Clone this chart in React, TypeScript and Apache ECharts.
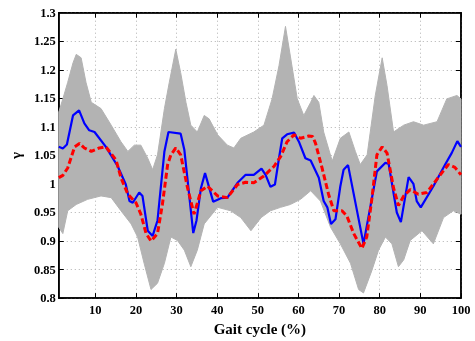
import React, { useEffect, useRef } from "react";
import * as echarts from "echarts";

// Blue solid curve (cycle %, gamma)
const blueX = [1, 2, 3, 4.5, 6, 7.3, 8.5, 9.8, 12.6, 15.5, 17.5, 18.4, 19.2, 20.8, 21.6, 22.9, 24.1, 25.3, 27, 28, 31, 31.9, 34.1, 34.9, 36, 37, 39, 40.9, 42.5, 45, 47, 49, 50.9, 51.9, 53.1, 54.2, 55.2, 56, 57.2, 58.9, 60.1, 61.7, 63, 65, 66.2, 67.1, 68, 69.1, 70.3, 71.1, 72.2, 76, 78.1, 79.3, 81.4, 82.2, 84.2, 85.2, 87.1, 88.3, 89.1, 90.1, 93.2, 96.1, 97.7, 99.1, 100];
const blueY = [1.065, 1.062, 1.069, 1.12, 1.129, 1.106, 1.094, 1.091, 1.065, 1.031, 0.999, 0.97, 0.967, 0.985, 0.979, 0.918, 0.909, 0.936, 1.057, 1.091, 1.088, 1.06, 0.914, 0.936, 0.993, 1.019, 0.969, 0.975, 0.976, 1.002, 1.016, 1.016, 1.027, 1.016, 0.995, 0.999, 1.045, 1.08, 1.087, 1.09, 1.074, 1.045, 1.041, 1.011, 0.97, 0.959, 0.93, 0.938, 0.996, 1.025, 1.033, 0.895, 0.976, 1.022, 1.037, 1.035, 0.95, 0.933, 1.012, 1.0, 0.97, 0.959, 0.996, 1.034, 1.054, 1.075, 1.065];

// Red dashed curve
const redX = [1, 2, 3.2, 4.9, 6.1, 7.3, 9, 11, 12.6, 15.1, 16.3, 18, 20, 21.2, 22.5, 23.7, 25.3, 26.5, 27.8, 28.6, 29.8, 31, 32.7, 34.3, 36, 37.6, 40.1, 42.5, 45, 47, 49, 51.5, 54, 55.6, 57.2, 58.9, 60.5, 62.5, 63.5, 64.2, 65.8, 67.4, 68.7, 70.7, 71.9, 73.6, 75.6, 76.8, 78.1, 79.3, 80.6, 81.8, 83.4, 84.6, 85.9, 87.5, 89.5, 91.6, 94.9, 96.9, 98.5, 100];
const redY = [1.011, 1.015, 1.028, 1.065, 1.071, 1.063, 1.057, 1.063, 1.065, 1.042, 1.011, 0.982, 0.967, 0.947, 0.913, 0.9, 0.913, 0.964, 1.034, 1.051, 1.063, 1.051, 0.993, 0.947, 0.988, 0.996, 0.979, 0.976, 0.999, 1.003, 1.002, 1.014, 1.031, 1.048, 1.074, 1.086, 1.08, 1.084, 1.083, 1.071, 1.028, 0.982, 0.953, 0.953, 0.944, 0.913, 0.887, 0.907, 0.976, 1.051, 1.065, 1.054, 0.993, 0.962, 0.979, 0.99, 0.982, 0.985, 1.016, 1.034, 1.029, 1.016];

// Grey band of all curves: upper and lower envelopes
const upperX = [1, 2, 3.2, 4.5, 5.3, 6.5, 7.7, 9, 11.4, 13.9, 16.3, 18, 19.6, 21.2, 22.9, 24.1, 25.3, 27, 28.2, 29.8, 31, 32.3, 33.5, 35.1, 36.8, 38, 40.1, 42.5, 44.1, 45.8, 49, 51.5, 53.5, 55.2, 56.8, 58, 59.7, 61.3, 63, 63.8, 65, 66.2, 68.3, 70.3, 72.4, 74, 75.2, 76.9, 78.9, 80.6, 81.8, 83.4, 85.9, 88.3, 90.8, 94.1, 96.5, 99, 100];
const upperY = [1.126, 1.149, 1.178, 1.212, 1.227, 1.221, 1.178, 1.143, 1.132, 1.103, 1.074, 1.057, 1.068, 1.068, 1.045, 1.025, 1.051, 1.132, 1.178, 1.236, 1.195, 1.143, 1.103, 1.091, 1.12, 1.114, 1.086, 1.068, 1.063, 1.08, 1.091, 1.103, 1.149, 1.207, 1.276, 1.224, 1.149, 1.12, 1.143, 1.155, 1.143, 1.091, 1.04, 1.08, 1.091, 1.057, 1.034, 1.051, 1.155, 1.221, 1.172, 1.091, 1.103, 1.109, 1.103, 1.109, 1.149, 1.155, 1.149];
const lowerX = [1, 2, 3.2, 5.3, 8.1, 11.4, 13.9, 16.3, 18.8, 20.4, 22, 23.7, 25.3, 27, 28.6, 30.2, 31.9, 33.5, 35.1, 36.8, 40.1, 43.3, 45.8, 48.3, 50.8, 53.1, 55.6, 58, 60.5, 63, 65.4, 67.9, 70.3, 72.8, 74.8, 76, 78.1, 79.7, 81.4, 83, 84.6, 85.9, 87.5, 90.4, 93.2, 95.7, 98.1, 100];
const lowerY = [0.924, 0.913, 0.953, 0.964, 0.973, 0.979, 0.976, 0.953, 0.93, 0.907, 0.861, 0.815, 0.826, 0.861, 0.907, 0.901, 0.884, 0.855, 0.884, 0.93, 0.959, 0.953, 0.941, 0.918, 0.941, 0.953, 0.959, 0.964, 0.973, 0.988, 0.97, 0.924, 0.895, 0.861, 0.815, 0.809, 0.849, 0.884, 0.907, 0.895, 0.855, 0.867, 0.901, 0.918, 0.895, 0.941, 0.953, 0.947];

const xTicks = [10, 20, 30, 40, 50, 60, 70, 80, 90, 100];

const FONT = "'Liberation Serif', 'Times New Roman', serif";

export default function App() {
  const ref = useRef<HTMLDivElement>(null);
  useEffect(() => {
    if (!ref.current) return;
    const chart = echarts.init(ref.current, undefined, { renderer: "svg" });
    const labelStyle = { color: "#000", fontFamily: FONT, fontWeight: "bold" as const, fontSize: 12.5 };
    const split = { show: true, lineStyle: { color: "#b0b0b0", type: [1, 3] as any, width: 1 } };
    chart.setOption({
      animation: false,
      grid: { left: 57.6, right: 14, top: 12.7, bottom: 39, show: true, borderColor: "#000", borderWidth: 1.5, backgroundColor: "transparent" },
      xAxis: [
        {
          type: "value", min: 1, max: 100, position: "bottom",
          name: "Gait cycle (%)", nameLocation: "middle", nameGap: 17,
          nameTextStyle: { color: "#000", fontFamily: FONT, fontWeight: "bold", fontSize: 15 },
          axisLine: { show: true, lineStyle: { color: "#000", width: 1.5 } },
          axisTick: { show: true, inside: true, length: 5, customValues: xTicks, lineStyle: { color: "#000" } },
          axisLabel: { ...labelStyle, margin: 5, customValues: xTicks },
          splitLine: split,
        },
        {
          type: "value", min: 1, max: 100, position: "top",
          axisLine: { show: true, lineStyle: { color: "#000", width: 1.5 } },
          axisTick: { show: true, inside: true, length: 5, customValues: xTicks, lineStyle: { color: "#000" } },
          axisLabel: { show: false },
          splitLine: { show: false },
        },
      ],
      yAxis: [
        {
          type: "value", min: 0.8, max: 1.3, interval: 0.05, position: "left",
          name: "γ", nameLocation: "middle", nameGap: 33, nameRotate: 90,
          nameTextStyle: { color: "#000", fontFamily: FONT, fontWeight: "bold", fontSize: 15 },
          axisLine: { show: true, lineStyle: { color: "#000", width: 1.5 } },
          axisTick: { show: true, inside: true, length: 5, lineStyle: { color: "#000" } },
          axisLabel: { ...labelStyle, margin: 3, formatter: (v: number) => String(Math.round(v * 100) / 100) },
          splitLine: split,
        },
        {
          type: "value", min: 0.8, max: 1.3, interval: 0.05, position: "right",
          axisLine: { show: true, lineStyle: { color: "#000", width: 1.5 } },
          axisTick: { show: true, inside: true, length: 5, lineStyle: { color: "#000" } },
          axisLabel: { show: false },
          splitLine: { show: false },
        },
      ],
      series: [
        {
          type: "custom",
          xAxisIndex: 0, yAxisIndex: 0,
          data: [[upperX[0], upperY[0]]],
          clip: true,
          z: 1,
          renderItem: (_p: any, api: any) => {
            const pts = upperX.map((x, i) => api.coord([x, upperY[i]]));
            const low = lowerX.map((x, i) => api.coord([x, lowerY[i]])).reverse();
            return { type: "polygon", shape: { points: pts.concat(low) }, style: { fill: "#b3b3b3", stroke: "#b3b3b3", lineWidth: 1 } };
          },
        },
        {
          type: "line", xAxisIndex: 0, yAxisIndex: 0, z: 3,
          data: blueX.map((x, i) => [x, blueY[i]]),
          showSymbol: false, symbol: "none",
          lineStyle: { color: "#0000ff", width: 2.2 },
        },
        {
          type: "line", xAxisIndex: 0, yAxisIndex: 0, z: 4,
          data: redX.map((x, i) => [x, redY[i]]),
          showSymbol: false, symbol: "none",
          lineStyle: { color: "#ff0000", width: 3, type: [6, 3] },
        },
      ],
    });
    return () => chart.dispose();
  }, []);
  return <div ref={ref} style={{ position: "fixed", left: 0, top: 0, width: 475, height: 341 }} />;
}
